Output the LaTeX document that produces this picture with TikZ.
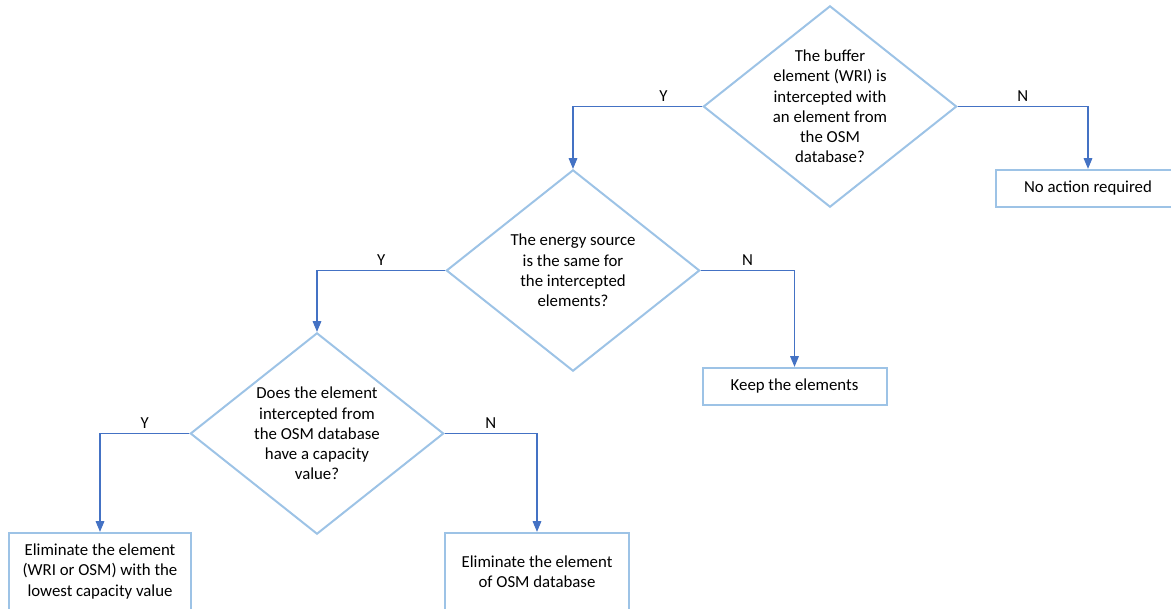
\documentclass[tikz,border=0pt]{standalone}
\usepackage{fontspec}
\setmainfont{Carlito}
\usetikzlibrary{shapes.geometric, arrows.meta}

\definecolor{diaedge}{RGB}{157,195,230}
\definecolor{boxedge}{RGB}{157,195,230}
\definecolor{arrowblue}{RGB}{68,114,196}

\begin{document}
\begin{tikzpicture}[
  x=0.75pt, y=-0.75pt,
  > = {Triangle[length=8pt, width=6.5pt]},
  font=\fontsize{12.6}{15.2}\selectfont,
  decision/.style={draw=diaedge, line width=1.5pt, diamond, aspect=1.26,
                   inner sep=-6pt, minimum width=190pt, minimum height=151pt,
                   align=center},
  outcome/.style={draw=boxedge, line width=1.5pt, minimum width=138pt,
                  minimum height=28pt, align=center},
  arr/.style={->, draw=arrowblue, line width=0.8pt},
  yn/.style={above}
]
  \useasboundingbox (0,0) rectangle (1171,608);

  \node[decision] (buf) at (830,106.5)
    {The buffer\\element (WRI) is\\intercepted with\\an element from\\the OSM\\database?};
  \node[decision] (src) at (573,270.5)
    {The energy source\\is the same for\\the intercepted\\elements?};
  \node[decision] (cap) at (317,433.5)
    {Does the element\\intercepted from\\the OSM database\\have a capacity\\value?};

  \node[outcome] (none) at (1088,188.5) {No action required};
  \node[outcome] (keep) at (794.5,386.5) {Keep the elements};
  \node[outcome, minimum width=136pt, minimum height=58pt] (low) at (100,571.5)
    {Eliminate the element\\(WRI or OSM) with the\\lowest capacity value};
  \node[outcome, minimum height=58pt] (osm) at (537,571.5)
    {Eliminate the element\\of OSM database};

  \draw[arr] (buf.west) -| node[yn, pos=0.15] {Y} (src.north);
  \draw[arr] (buf.east) -| node[yn, pos=0.25] {N} (none.north);
  \draw[arr] (src.west) -| node[yn, pos=0.25] {Y} (cap.north);
  \draw[arr] (src.east) -| node[yn, pos=0.25] {N} (keep.north);
  \draw[arr] (cap.west) -| node[yn, pos=0.25] {Y} (low.north);
  \draw[arr] (cap.east) -| node[yn, pos=0.25] {N} (osm.north);
\end{tikzpicture}
\end{document}
